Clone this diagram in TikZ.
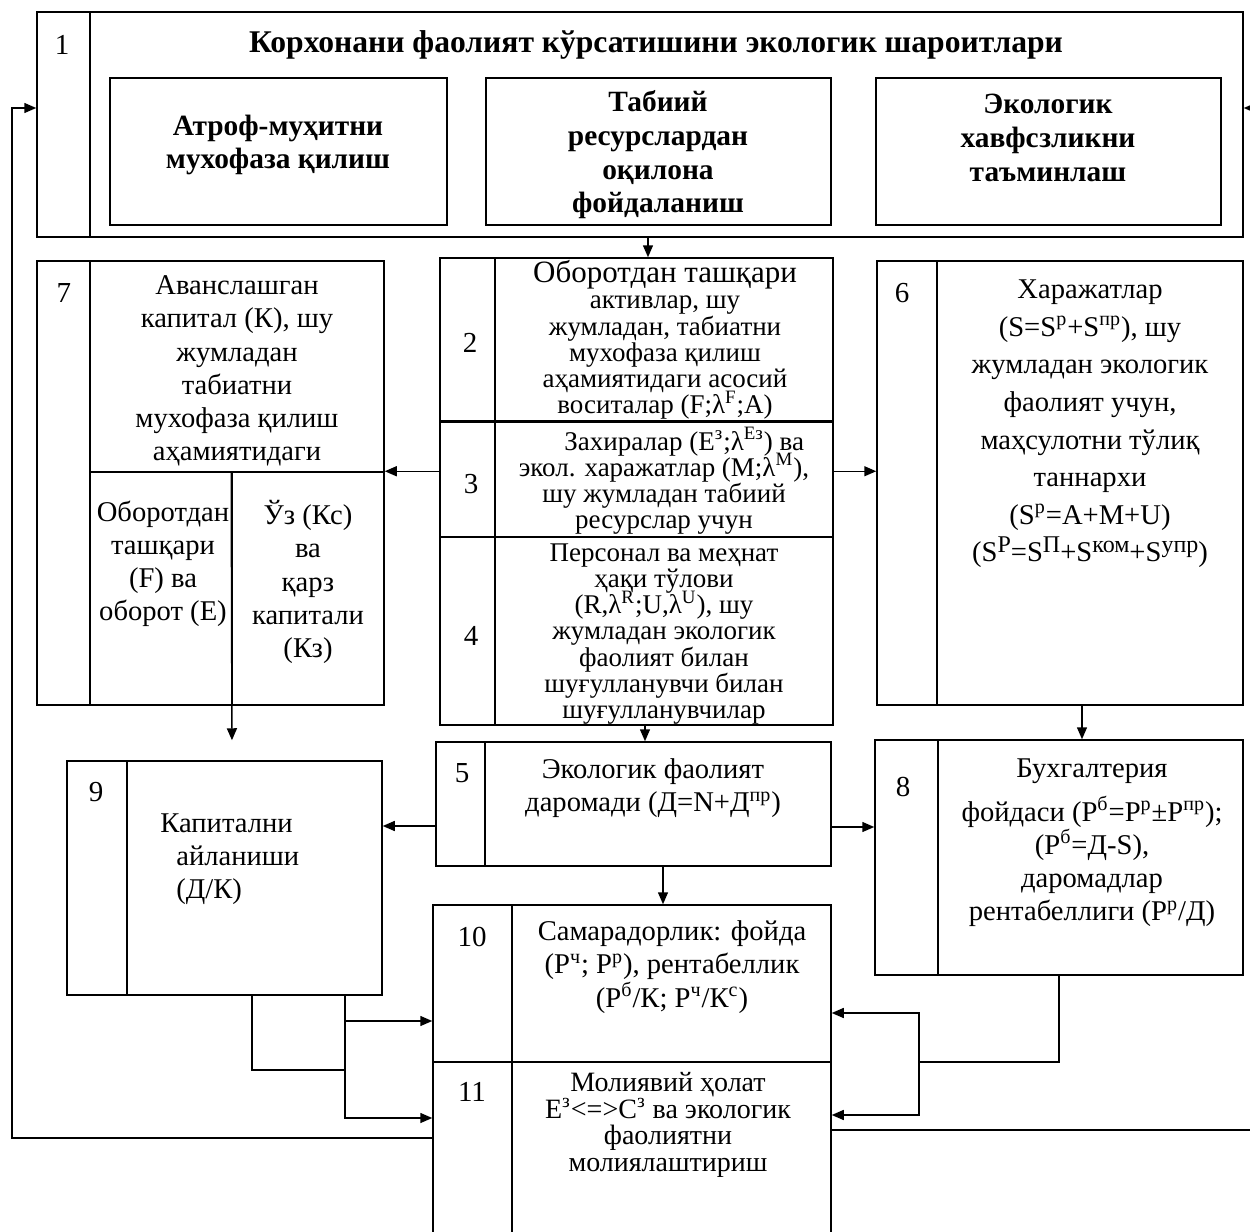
\documentclass[tikz,border=0pt]{standalone}
\usepackage{fontspec}
\setmainfont{Liberation Serif}
\usetikzlibrary{arrows.meta,fit}
\lineskiplimit=-20pt
\newcommand{\bigsup}[1]{\raisebox{0.75ex}{\fontsize{12}{12}\selectfont #1}}
\begin{document}
\begin{tikzpicture}[x=0.5pt,y=-0.5pt]
	\tikzstyle{Cell} = [rectangle, draw, line width=0.75pt, inner sep=0pt]
	\tikzstyle{Txt} = [align=center, inner sep=0pt, font=\fontsize{14.3}{16.6}\selectfont]
	\tikzstyle{Tight} = [Txt, font=\fontsize{13.5}{13.1}\selectfont]
	\tikzstyle{Wide} = [Txt, font=\fontsize{14.3}{18.8}\selectfont]
	\tikzstyle{Bld} = [Txt, font=\bfseries\fontsize{14.7}{16.8}\selectfont]
	\tikzstyle{Num} = [inner sep=0pt, font=\fontsize{14.5}{16}\selectfont]
	\tikzstyle{Arr} = [line width=0.75pt, -{Triangle[length=6pt,width=5pt]}]
	\useasboundingbox (0,0) rectangle (1250,1232);

	\node (n1) [Cell, fit={(37,12) (90,237)}] {};
	\node (b1) [Cell, fit={(90,12) (1243,237)}] {};
	\node (s1) [Cell, fit={(110,78) (447,225)}] {};
	\node (s2) [Cell, fit={(486,78) (831,225)}] {};
	\node (s3) [Cell, fit={(876,78) (1221,225)}] {};
	\node (l1) at (62,45) [Num] {1};
	\node (t1) at (656,45) [Txt, font=\bfseries\fontsize{15.8}{18}\selectfont] {Корхонани фаолият кўрсатишини экологик шароитлари};
	\node (ts1) at (278,145) [Bld] {Атроф-муҳитни\\мухофаза қилиш};
	\node (ts2) at (658,155) [Bld] {Табиий\\ресурслардан\\оқилона\\фойдаланиш};
	\node (ts3) at (1048,138) [Bld] {Экологик\\хавфсзликни\\таъминлаш};

	\node (n2) [Cell, fit={(440,258) (495,422)}] {};
	\node (b2) [Cell, fit={(495,258) (833,422)}] {};
	\node (n3) [Cell, fit={(440,422) (495,537)}] {};
	\node (b3) [Cell, fit={(495,422) (833,537)}] {};
	\node (n4) [Cell, fit={(440,537) (495,725)}] {};
	\node (b4) [Cell, fit={(495,537) (833,725)}] {};
	\draw [line width=1.2pt] (n3.north west) to (b3.north east);
	\node (l2) at (470,343) [Num] {2};
	\node (l3) at (471,484) [Num] {3};
	\node (l4) at (471,636) [Num] {4};
	\node (t2) at (665,340) [Tight] {{\fontsize{15.5}{13.1}\selectfont Оборотдан ташқари}\\активлар, шу\\жумладан, табиатни\\мухофаза қилиш\\аҳамиятидаги асосий\\воситалар (F;λ\textsuperscript{F};A)};
	\node (t3) at (664,481) [Tight] {\hspace*{1.5em}Захиралар (E\textsuperscript{з};λ\textsuperscript{Eз}) ва\\экол. харажатлар (M;λ\textsuperscript{M}),\\шу жумладан табиий\\ресурслар учун};
	\node (t4) at (664,634) [Tight] {Персонал ва меҳнат\\ҳақи тўлови\\(R,λ\textsuperscript{R};U,λ\textsuperscript{U}), шу\\жумладан экологик\\фаолият билан\\шуғулланувчи билан\\шуғулланувчилар};

	\node (n7) [Cell, fit={(37,261) (90,705)}] {};
	\node (b7) [Cell, fit={(90,261) (384,472)}] {};
	\node (b7a) [Cell, fit={(90,472) (232,705)}] {};
	\node (b7b) [Cell, fit={(232,472) (384,705)}] {};
	\node (l7) at (64,293) [Num] {7};
	\node (t7) at (237,371) [Txt] {Аванслашган\\капитал (К), шу\\жумладан\\табиатни\\мухофаза қилиш\\аҳамиятидаги};
	\node (t7a) at (163,564) [Txt] {Оборотдан\\ташқари\\(F) ва\\оборот (E)};
	\node (t7b) at (308,582) [Txt] {Ўз (Кс)\\ва\\қарз\\капитали\\(Кз)};

	\node (n6) [Cell, fit={(877,261) (937,705)}] {};
	\node (b6) [Cell, fit={(937,261) (1243,705)}] {};
	\node (l6) at (902,293) [Num] {6};
	\node (t6) at (1090,424) [Wide] {Харажатлар\\(S=S\textsuperscript{р}+S\textsuperscript{пр}), шу\\жумладан экологик\\фаолият учун,\\маҳсулотни тўлиқ\\таннархи\\(S\textsuperscript{р}=A+M+U)\\(S\bigsup{P}=S\bigsup{П}+S\bigsup{ком}+S\bigsup{упр})};

	\node (n5) [Cell, fit={(436,742) (485,866)}] {};
	\node (b5) [Cell, fit={(485,742) (831,866)}] {};
	\node (l5) at (462,773) [Num] {5};
	\node (t5) at (653,788) [Txt] {Экологик фаолият\\даромади (Д=N+Д\textsuperscript{пр})};

	\node (n9) [Cell, fit={(67,761) (127,995)}] {};
	\node (b9) [Cell, fit={(127,761) (382,995)}] {};
	\node (l9) at (96,792) [Num] {9};
	\node (t9) at (160,859) [Txt, align=left, anchor=west] {Капитални\\\hspace*{8pt}айланиши\\\hspace*{8pt}(Д/К)};

	\node (n8) [Cell, fit={(875,740) (938,975)}] {};
	\node (b8) [Cell, fit={(938,740) (1243,975)}] {};
	\node (l8) at (903,787) [Num] {8};
	\node (t8) at (1092,843) [Txt] {Бухгалтерия\\[5pt]фойдаси (P\textsuperscript{б}=P\textsuperscript{р}±P\textsuperscript{пр});\\(P\textsuperscript{б}=Д-S),\\даромадлар\\рентабеллиги (P\textsuperscript{р}/Д)};

	\node (n10) [Cell, fit={(433,905) (512,1062)}] {};
	\node (b10) [Cell, fit={(512,905) (831,1062)}] {};
	\node (n11) [Cell, fit={(433,1062) (512,1242)}] {};
	\node (b11) [Cell, fit={(512,1062) (831,1242)}] {};
	\node (l10) at (472,937) [Num] {10};
	\node (l11) at (472,1092) [Num] {11};
	\node (t10) at (672,967) [Txt] {Самарадорлик: фойда\\(P\textsuperscript{ч}; P\textsuperscript{р}), рентабеллик\\(P\textsuperscript{б}/К; P\textsuperscript{ч}/К\textsuperscript{с})};
	\node (t11) at (668,1125) [Txt, font=\fontsize{14}{13.3}\selectfont] {Молиявий ҳолат\\E\textsuperscript{з}<=>C\textsuperscript{з} ва экологик\\фаолиятни\\молиялаштириш};

	\draw [Arr] (648,0 |- b1.south) to (648,0 |- b2.north);
	\draw [Arr] (n3.west |- b7b.north east) to (b7b.north east);
	\draw [Arr] (b3.east |- b7b.north east) to (n6.west |- b7b.north east);
	\draw [Arr, shorten >=10pt] (b7b.north west) to (232,0 |- b9.north);
	\draw [Arr] (645,0 |- b4.south) to (645,0 |- b5.north);
	\draw [Arr] (1082,0 |- b6.south) to (1082,0 |- b8.north);
	\draw [Arr] (n5.west |- 0,826) to (b9.east |- 0,826);
	\draw [Arr] (b5.east |- 0,827) to (n8.west |- 0,827);
	\draw [Arr] (663,0 |- b5.south) to (663,0 |- b10.north);
	\coordinate (k1) at (345,1070);
	\draw [-, line width=0.75pt] (252,0 |- b9.south) |- (k1);
	\draw [Arr] (345,0 |- b9.south) |- (n10.west |- 0,1021);
	\draw [Arr] (345,0 |- b9.south) |- (n11.west |- 0,1118);
	\coordinate (k2) at (919,1062);
	\draw [-, line width=0.75pt] (1059,0 |- b8.south) |- (k2);
	\draw [Arr] (k2) |- (b10.east |- 0,1013);
	\draw [Arr] (k2) |- (b11.east |- 0,1115);
	\draw [Arr] (n11.west |- 0,1138) -| (12,108) to (n1.west |- 0,108);
	\draw [Arr] (b11.east |- 0,1130) -| (1253,108) to (b1.east |- 0,108);
\end{tikzpicture}
\end{document}
